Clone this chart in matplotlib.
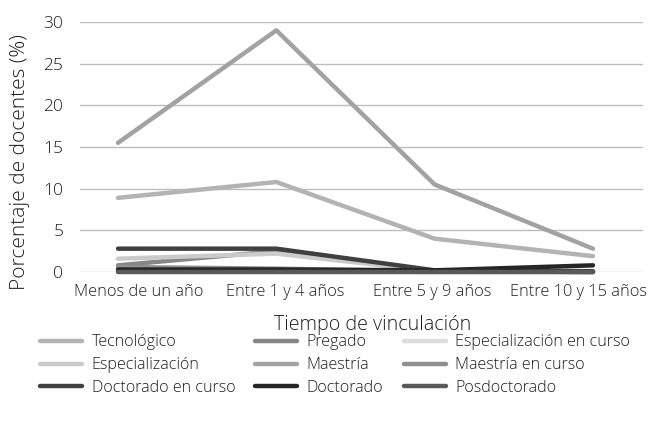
import matplotlib
matplotlib.use("Agg")
import matplotlib.pyplot as plt
import numpy as np

# Categories (years of service) and series (percent of teaching staff by degree)
categories = ["Menos de un año", "Entre 1 y 4 años", "Entre 5 y 9 años", "Entre 10 y 15 años"]
series_names = ["Tecnológico", "Pregado", "Especialización en curso",
                "Especialización", "Maestría", "Maestría en curso",
                "Doctorado en curso", "Doctorado", "Posdoctorado"]
tecnologico = [8.9, 10.8, 4.0, 1.9]
pregado = [0.8, 2.5, 0.1, 0.0]
especializacion_curso = [0.3, 0.2, 0.0, 0.0]
especializacion = [1.6, 2.2, 0.1, 0.0]
maestria = [15.5, 29.0, 10.5, 2.8]
maestria_curso = [0.6, 0.4, 0.1, 0.0]
doctorado_curso = [2.8, 2.8, 0.2, 0.1]
doctorado = [0.3, 0.3, 0.2, 0.8]
posdoctorado = [0.0, 0.0, 0.0, 0.0]
y_ticks = [0, 5, 10, 15, 20, 25, 30]

values = [tecnologico, pregado, especializacion_curso, especializacion,
          maestria, maestria_curso, doctorado_curso, doctorado, posdoctorado]
colors = ["#b3b3b3", "#868686", "#dcdcdc", "#cbcbcb", "#a2a2a2",
          "#8f8f8f", "#404040", "#262626", "#595959"]

plt.rcParams['font.family'] = ['Open Sans', 'DejaVu Sans']
text_color = "#1e1e1e"

fig = plt.figure(figsize=(6.54, 4.26), dpi=100)
ax = fig.add_axes([80 / 654, 1 - 272 / 426, (643 - 80) / 654, 250 / 426])

x = np.arange(len(categories))
lines = []
for name, vals, col in zip(series_names, values, colors):
    ln, = ax.plot(x, vals, color=col, lw=3.2, solid_capstyle='round',
                  solid_joinstyle='round', clip_on=False, label=name)
    lines.append(ln)

ax.set_xlim(-0.24, 3.316)
ax.set_ylim(0, 30)
ax.set_yticks(y_ticks)
ax.yaxis.grid(True, color="#bdbdbd", lw=1.0)
ax.set_axisbelow(True)
for s in ax.spines.values():
    s.set_visible(False)
ax.tick_params(axis='both', length=0, colors=text_color, labelcolor=text_color)
ax.tick_params(axis='y', pad=12, labelsize=12.5)
ax.tick_params(axis='x', pad=9, labelsize=11.8)

# category labels, spread slightly wider than the data points
label_pos = np.linspace(0.13, 2.91, len(categories))
ax.set_xticks(label_pos)
ax.set_xticklabels(categories, fontweight='light')
for t in ax.get_yticklabels():
    t.set_fontweight('light')

fig.text(20 / 654, 1 - 162 / 426, "Porcentaje de docentes (%)", rotation=90,
         ha='center', va='center', fontsize=15, color=text_color,
         fontweight='light')
fig.text(373 / 654, 1 - 325 / 426, "Tiempo de vinculación", ha='center',
         va='center', fontsize=14.2, color=text_color, fontweight='light')

# legend filled row by row, three columns
order = [0, 3, 6, 1, 4, 7, 2, 5, 8]
leg = fig.legend(handles=[lines[i] for i in order], loc='upper left', ncol=3,
                 bbox_to_anchor=(40 / 654, 1 - 334.5 / 426), frameon=False,
                 borderpad=0, borderaxespad=0,
                 handlelength=2.6, handletextpad=0.6,
                 columnspacing=1.25, labelspacing=0.42,
                 prop={'weight': 'light', 'size': 11.6})
for t in leg.get_texts():
    t.set_color(text_color)

fig.savefig("out.png", dpi=100)
